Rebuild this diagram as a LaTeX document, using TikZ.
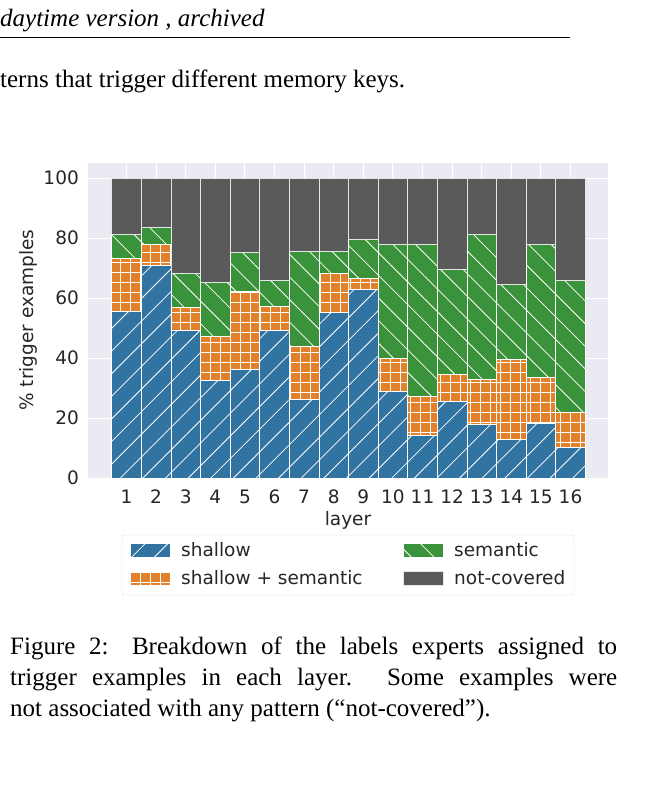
\documentclass[tikz,border=0pt]{standalone}
\usepackage{fontspec}
\setmainfont{Liberation Serif}
\setsansfont{DejaVu Sans}
\usetikzlibrary{patterns.meta}
\definecolor{cb}{RGB}{50,116,161}
\definecolor{co}{RGB}{225,129,44}
\definecolor{cg}{RGB}{58,146,58}
\definecolor{ck}{RGB}{90,90,90}
\definecolor{bg}{RGB}{234,234,242}
\begin{document}
\begin{tikzpicture}[x=1pt,y=-1pt,
  sh/.style={fill=cb,draw=white,line width=0.6pt,postaction={pattern={Lines[angle=45,distance=16pt,line width=0.8pt]},pattern color=white}},
  ss/.style={fill=co,draw=white,line width=0.6pt,postaction={pattern={Hatch[angle=0,distance=10pt,line width=0.8pt]},pattern color=white}},
  se/.style={fill=cg,draw=white,line width=0.6pt,postaction={pattern={Lines[angle=-45,distance=16pt,line width=0.8pt]},pattern color=white}},
  nc/.style={fill=ck,draw=white!80!gray,line width=0.6pt},
  tk/.style={font=\sffamily\fontsize{18.5}{18.5}\selectfont,text=black!85,inner sep=1pt},
  captxt/.style={anchor=base west,inner sep=0,font=\fontsize{25}{25}\selectfont}]
\useasboundingbox (0,0) rectangle (668,802);
\fill[white] (0,0) rectangle (668,802);
% top text
\node[anchor=base west,inner sep=0,font=\itshape\fontsize{25}{25}\selectfont] (t1) at (0,27) {daytime version , archived};
\draw[line width=0.8pt] (0,37) -- (570,37);
\node[captxt] (t2) at (0,88) {terns that trigger different memory keys.};
% axes background
\fill[bg] (88,163) rectangle (608,478);
\foreach \v in {0,20,...,100}{
  \draw[white,line width=0.9pt] (88,{478-3*\v}) -- (608,{478-3*\v});
  \node[tk,anchor=east] (yl\v) at (80,{478-3*\v}) {\v};
}
\foreach \i in {1,...,16}{
  \pgfmathsetmacro\cx{126.5+29.6*(\i-1)}
  \draw[white,line width=0.9pt] (\cx,163) -- (\cx,478);
}
\foreach \i/\a/\b/\c in {1/55.7/73.3/81.3,2/71/78/83.7,3/49.3/57/68.3,4/32.7/47.3/65.3,5/36.3/62.3/75.3,6/49.3/57.3/66,7/26.3/44/75.7,8/55.3/68.3/75.7,9/63/66.7/79.7,10/29/40/78,11/14.3/27.3/78,12/25.7/34.7/69.7,13/18/33/81.3,14/13/39.7/64.7,15/18.3/33.7/78,16/10.3/22/66}{
  \pgfmathsetmacro\cx{126.5+29.6*(\i-1)}
  \path[sh] ({\cx-14.8},478) rectangle ({\cx+14.8},{478-3*\a});
  \path[ss] ({\cx-14.8},{478-3*\a}) rectangle ({\cx+14.8},{478-3*\b});
  \path[se] ({\cx-14.8},{478-3*\b}) rectangle ({\cx+14.8},{478-3*\c});
  \path[nc] ({\cx-14.8},{478-3*\c}) rectangle ({\cx+14.8},178);
  \node[tk] (xl\i) at (\cx,497) {\i};
}
\node[tk] (xlab) at (348,520) {layer};
\node[tk,rotate=90] (ylab) at (28,320) {\% trigger examples};
% legend
\draw[white!85!black,rounded corners=2pt,fill=white] (122,535) rectangle (574,595);
\path[sh] (130,543) rectangle (170,557);
\node[tk,anchor=west] (l1) at (180,550) {shallow};
\path[ss] (130,571) rectangle (170,585);
\node[tk,anchor=west] (l2) at (180,578) {shallow + semantic};
\path[se] (403,543) rectangle (443,557);
\node[tk,anchor=west] (l3) at (453,550) {semantic};
\path[nc] (403,571) rectangle (443,585);
\node[tk,anchor=west] (l4) at (453,578) {not-covered};
% caption
\node[captxt] (c1) at (10,654) {\makebox[607pt][s]{Figure 2: Breakdown of the labels experts assigned to}};
\node[captxt] (c2) at (10,685) {\makebox[607pt][s]{trigger examples in each layer. Some examples were}};
\node[captxt] (c3) at (10,716) {not associated with any pattern (“not-covered”).};
\end{tikzpicture}
\end{document}
